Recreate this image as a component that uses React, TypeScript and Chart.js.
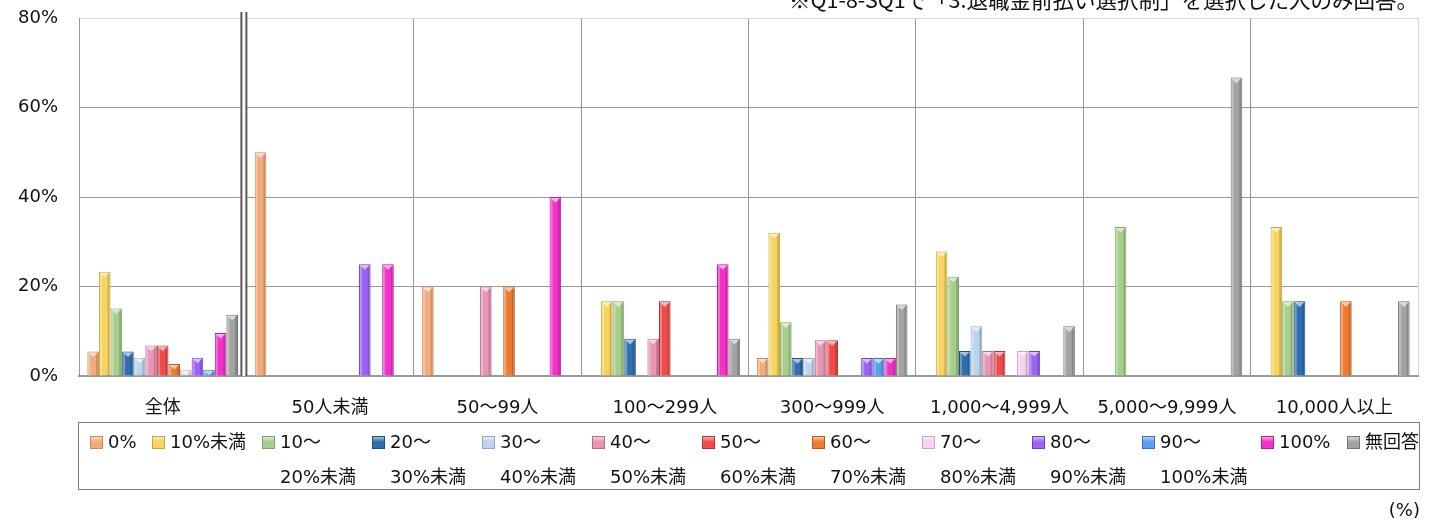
import React, { useEffect, useRef } from 'react';
import { Chart, registerables } from 'chart.js';

Chart.register(...registerables);

// ---------- data ----------
const CATEGORIES = ['全体', '50人未満', '50～99人', '100～299人', '300～999人', '1,000～4,999人', '5,000～9,999人', '10,000人以上'];

const LEGEND_LINE1 = ['0%', '10%未満', '10～', '20～', '30～', '40～', '50～', '60～', '70～', '80～', '90～', '100%', '無回答'];
const LEGEND_LINE2 = ['', '', '20%未満', '30%未満', '40%未満', '50%未満', '60%未満', '70%未満', '80%未満', '90%未満', '100%未満', '', ''];

const S_0 = [5.5, 50, 20, 0, 4, 0, 0, 0];
const S_10U = [23.3, 0, 0, 16.7, 32, 27.8, 0, 33.3];
const S_10 = [15.1, 0, 0, 16.7, 12, 22.2, 33.3, 16.7];
const S_20 = [5.5, 0, 0, 8.3, 4, 5.6, 0, 16.7];
const S_30 = [4.1, 0, 0, 0, 4, 11.1, 0, 0];
const S_40 = [6.8, 0, 20, 8.3, 8, 5.6, 0, 0];
const S_50 = [6.8, 0, 0, 16.7, 8, 5.6, 0, 0];
const S_60 = [2.7, 0, 20, 0, 0, 0, 0, 16.7];
const S_70 = [1.4, 0, 0, 0, 0, 5.6, 0, 0];
const S_80 = [4.1, 25, 0, 0, 4, 5.6, 0, 0];
const S_90 = [1.4, 0, 0, 0, 4, 0, 0, 0];
const S_100 = [9.6, 25, 40, 25, 4, 0, 0, 0];
const S_NA = [13.7, 0, 0, 8.3, 16, 11.1, 66.7, 16.7];

const SERIES_VALUES = [S_0, S_10U, S_10, S_20, S_30, S_40, S_50, S_60, S_70, S_80, S_90, S_100, S_NA];

const Y_MIN = 0;
const Y_MAX = 80;
const Y_STEP = 20;

const NOTE = '※Q1-8-SQ1で「3.退職金前払い選択制」を選択した人のみ回答。';
const UNIT = '(%)';

// ---------- styles ----------
const FILLS = ['#F4AB7B', '#F7D45E', '#A6CE8C', '#2F6FB0', '#BDD5EC', '#E894B4', '#F04B4B', '#EE7B2F', '#F4D2F2', '#9B63F5', '#5D9CF0', '#F231C8', '#A3A3A3'];
const EDGES = ['#C98A5E', '#C9A83A', '#7FA568', '#1F4F82', '#8FA9C4', '#B86E8A', '#B83232', '#B85A1C', '#C9A6C6', '#7040C0', '#3A72C0', '#B81E96', '#767676'];
const FONT = '"DejaVu Sans", "Noto Sans CJK JP", sans-serif';

const bevelPlugin = {
  id: 'bevel',
  afterDatasetsDraw(chart: any) {
    const ctx = chart.ctx;
    chart.data.datasets.forEach((ds: any, di: number) => {
      const meta = chart.getDatasetMeta(di);
      meta.data.forEach((bar: any, i: number) => {
        const v = ds.data[i];
        if (!v || v <= 0) return;
        const { x, y, base, width } = bar.getProps(['x', 'y', 'base', 'width'], true);
        const l = x - width / 2;
        const r = x + width / 2;
        const h = base - y;
        ctx.save();
        ctx.fillStyle = 'rgba(255,255,255,0.30)';
        ctx.fillRect(l + 1, y + 1, 2, h - 1);
        ctx.fillStyle = 'rgba(0,0,0,0.16)';
        ctx.fillRect(r - 3, y + 1, 2, h - 1);
        const th = Math.min(width * 0.4, h - 1);
        ctx.beginPath();
        ctx.moveTo(l + 1, y + 1);
        ctx.lineTo(r - 1, y + 1);
        ctx.lineTo(x, y + 1 + th);
        ctx.closePath();
        ctx.fillStyle = 'rgba(255,255,255,0.6)';
        ctx.fill();
        ctx.restore();
      });
    });
  },
};

const breakPlugin = {
  id: 'breakLine',
  afterDatasetsDraw(chart: any) {
    const ctx = chart.ctx;
    const xs = chart.scales.x;
    const { top, bottom } = chart.chartArea;
    const xb = (xs.getPixelForTick(0) + xs.getPixelForTick(1)) / 2;
    ctx.save();
    ctx.fillStyle = '#ffffff';
    ctx.fillRect(xb - 6, top - 6, 6, bottom - top + 6);
    ctx.strokeStyle = '#595959';
    ctx.lineWidth = 2;
    [xb - 5, xb].forEach((px) => {
      ctx.beginPath();
      ctx.moveTo(px, top - 6);
      ctx.lineTo(px, bottom);
      ctx.stroke();
    });
    ctx.restore();
  },
};

function LegendSwatch({ i }: { i: number }) {
  return (
    <span
      style={{
        display: 'inline-block',
        width: 11,
        height: 11,
        marginTop: 12,
        marginRight: 5,
        flex: '0 0 auto',
        background: `linear-gradient(180deg, rgba(255,255,255,0.55) 0%, rgba(255,255,255,0) 45%), ${FILLS[i]}`,
        border: `1px solid ${EDGES[i]}`,
      }}
    />
  );
}

const ITEM_WIDTH = (i: number) => {
  if (i === 0) return 62;
  if (i === 10) return 119;
  if (i === 11) return 86;
  if (i === 12) return undefined;
  return 110;
};

export default function App() {
  const ref = useRef<HTMLCanvasElement | null>(null);

  useEffect(() => {
    if (!ref.current) return;
    const chart = new Chart(ref.current, {
      type: 'bar',
      data: {
        labels: CATEGORIES,
        datasets: SERIES_VALUES.map((vals, i) => ({
          label: LEGEND_LINE1[i] + LEGEND_LINE2[i],
          data: vals,
          backgroundColor: FILLS[i],
          borderColor: EDGES[i],
          borderWidth: 1,
          borderSkipped: 'bottom',
          categoryPercentage: 0.9,
          barPercentage: 1.0,
        })),
      },
      options: {
        responsive: false,
        animation: false,
        events: [],
        layout: { padding: { left: 0, right: 32, top: 18, bottom: 109 } },
        plugins: {
          legend: { display: false },
          tooltip: { enabled: false },
          title: { display: false },
        },
        scales: {
          x: {
            afterFit: (s: any) => {
              s.height = 40;
            },
            grid: {
              offset: true,
              drawTicks: false,
              lineWidth: 1,
              color: (c: any) => (c.index === undefined || c.index === null ? '#d9d9d9' : '#9a9a9a'),
            },
            border: { display: true, color: '#9a9a9a', width: 2 },
            ticks: {
              padding: 22,
              color: '#111',
              font: { family: FONT, size: 18 },
              maxRotation: 0,
              autoSkip: false,
            },
          },
          y: {
            min: Y_MIN,
            max: Y_MAX,
            afterFit: (s: any) => {
              s.width = 79;
              s.paddingTop = 0;
              s.paddingBottom = 0;
            },
            grid: {
              drawTicks: false,
              lineWidth: 1,
              color: (c: any) => (c.tick && c.tick.value === Y_MAX ? '#d9d9d9' : '#9a9a9a'),
            },
            border: { display: true, color: '#9a9a9a', width: 1 },
            ticks: {
              stepSize: Y_STEP,
              padding: 21,
              color: '#111',
              font: { family: FONT, size: 18 },
              callback: (v: any) => `${v}%`,
            },
          },
        },
      },
      plugins: [bevelPlugin, breakPlugin],
    });
    return () => chart.destroy();
  }, []);

  return (
    <div style={{ position: 'absolute', left: 0, top: 0, width: 1450, height: 525, overflow: 'hidden', background: '#fff' }}>
      <canvas ref={ref} width={1450} height={525} style={{ position: 'absolute', left: 0, top: 0 }} />
      <div
        style={{
          position: 'absolute',
          right: 32,
          top: -12,
          fontFamily: '"Noto Sans CJK JP", sans-serif',
          fontSize: 21.5,
          lineHeight: '22px',
          color: '#111',
          whiteSpace: 'nowrap',
        }}
      >
        {NOTE}
      </div>
      <div
        style={{
          position: 'absolute',
          left: 78,
          top: 422,
          width: 1342,
          height: 68,
          boxSizing: 'border-box',
          border: '1px solid #7f7f7f',
          paddingLeft: 11,
          paddingTop: 1,
          display: 'flex',
          fontFamily: FONT,
          fontSize: 18,
          lineHeight: '35px',
          color: '#111',
        }}
      >
        {LEGEND_LINE1.map((t, i) => (
          <div key={i} style={{ display: 'flex', alignItems: 'flex-start', width: ITEM_WIDTH(i), flex: '0 0 auto', whiteSpace: 'nowrap' }}>
            <LegendSwatch i={i} />
            <div>
              <div>{t}</div>
              {LEGEND_LINE2[i] ? <div>{LEGEND_LINE2[i]}</div> : null}
            </div>
          </div>
        ))}
      </div>
      <div
        style={{
          position: 'absolute',
          right: 30,
          top: 498,
          fontFamily: FONT,
          fontSize: 18,
          lineHeight: '24px',
          color: '#111',
        }}
      >
        {UNIT}
      </div>
    </div>
  );
}
